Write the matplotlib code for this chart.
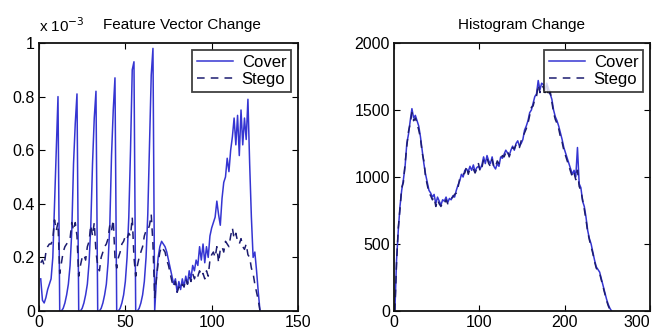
import numpy as np
import matplotlib
matplotlib.use("Agg")
import matplotlib.pyplot as plt

plt.rcParams['font.family'] = ['Liberation Sans Narrow', 'Liberation Sans', 'DejaVu Sans']

# ---------------- data ----------------
# Left panel: feature vector change (values in units of 1e-3)
fv_cover = [
    0.12, 0.04, 0.03, 0.05, 0.08, 0.10, 0.12, 0.20, 0.40, 0.60, 0.80,
    0.00, 0.00, 0.01, 0.03, 0.06, 0.10, 0.17, 0.30, 0.55, 0.70, 0.81,
    0.00, 0.00, 0.01, 0.03, 0.06, 0.10, 0.18, 0.32, 0.55, 0.72, 0.82,
    0.00, 0.00, 0.01, 0.03, 0.06, 0.10, 0.18, 0.32, 0.58, 0.75, 0.87,
    0.00, 0.00, 0.01, 0.03, 0.06, 0.11, 0.20, 0.35, 0.60, 0.90, 0.93,
    0.00, 0.00, 0.01, 0.03, 0.06, 0.11, 0.20, 0.36, 0.62, 0.88, 0.98,
    0.00, 0.12, 0.20, 0.24, 0.26, 0.25, 0.24, 0.22, 0.19, 0.16, 0.13,
    0.10, 0.12, 0.07, 0.11, 0.08, 0.12, 0.09, 0.13, 0.10, 0.15, 0.12,
    0.17, 0.15, 0.19, 0.17, 0.24, 0.19, 0.25, 0.18, 0.24, 0.20, 0.28,
    0.31, 0.33, 0.35, 0.41, 0.36, 0.32, 0.42, 0.48, 0.50, 0.57, 0.52,
    0.60, 0.65, 0.72, 0.62, 0.73, 0.58, 0.75, 0.62, 0.72, 0.64, 0.79,
    0.55, 0.35, 0.20, 0.22, 0.15, 0.07, 0.00,
]
fv_stego = [
    0.18, 0.19, 0.17, 0.22, 0.24, 0.25, 0.25, 0.27, 0.34, 0.30, 0.33,
    0.14, 0.18, 0.22, 0.24, 0.25, 0.26, 0.27, 0.33, 0.30, 0.33, 0.28,
    0.13, 0.17, 0.20, 0.21, 0.19, 0.24, 0.26, 0.32, 0.28, 0.33, 0.22,
    0.17, 0.15, 0.20, 0.22, 0.24, 0.25, 0.27, 0.32, 0.30, 0.34, 0.20,
    0.16, 0.20, 0.22, 0.25, 0.26, 0.28, 0.27, 0.29, 0.28, 0.35, 0.20,
    0.13, 0.17, 0.20, 0.22, 0.24, 0.28, 0.30, 0.30, 0.32, 0.36, 0.25,
    0.05, 0.12, 0.18, 0.22, 0.24, 0.23, 0.22, 0.19, 0.17, 0.14, 0.11,
    0.09, 0.11, 0.07, 0.09, 0.08, 0.10, 0.09, 0.12, 0.10, 0.13, 0.11,
    0.14, 0.12, 0.14, 0.13, 0.15, 0.13, 0.14, 0.12, 0.15, 0.13, 0.19,
    0.21, 0.22, 0.20, 0.24, 0.18, 0.23, 0.24, 0.22, 0.26, 0.25, 0.24,
    0.28, 0.31, 0.27, 0.29, 0.26, 0.25, 0.27, 0.24, 0.23, 0.25, 0.21,
    0.20, 0.16, 0.14, 0.10, 0.07, 0.04, 0.00,
]

# Right panel: histogram change (every second bin, bins 1,3,...,255)
hist_cover = [
    0, 380, 600, 780, 900, 980, 1080, 1250, 1320, 1420, 1510, 1440, 1460, 1420, 1380, 1300,
    1200, 1100, 1020, 960, 900, 880, 850, 870, 800, 850, 820, 790, 830, 820, 850, 810,
    840, 830, 860, 850, 900, 940, 970, 1020, 1000, 1050, 1060, 1040, 1080, 1050, 1090, 1040,
    1070, 1080, 1060, 1090, 1150, 1100, 1160, 1120, 1100, 1150, 1080, 1060, 1100, 1080, 1150, 1140,
    1170, 1200, 1180, 1160, 1200, 1230, 1200, 1250, 1270, 1230, 1250, 1280, 1350, 1380, 1420, 1480,
    1500, 1550, 1600, 1620, 1720, 1650, 1700, 1690, 1650, 1700, 1660, 1620, 1580, 1500, 1450, 1420,
    1380, 1330, 1280, 1220, 1180, 1140, 1100, 1060, 1020, 1050, 1000, 1220, 950, 920, 820, 780,
    700, 600, 540, 500, 440, 380, 330, 310, 290, 240, 190, 140, 90, 50, 20, 0,
]
hist_stego = [
    0, 360, 620, 760, 920, 960, 1100, 1230, 1340, 1400, 1480, 1420, 1440, 1400, 1350, 1290,
    1180, 1120, 1000, 940, 880, 860, 830, 850, 780, 830, 800, 780, 810, 800, 830, 800,
    820, 840, 850, 870, 880, 920, 990, 1000, 1020, 1030, 1080, 1020, 1060, 1070, 1060, 1030,
    1060, 1100, 1040, 1070, 1130, 1120, 1140, 1100, 1080, 1130, 1070, 1080, 1120, 1100, 1130, 1160,
    1150, 1180, 1200, 1150, 1190, 1220, 1210, 1240, 1250, 1220, 1270, 1300, 1330, 1360, 1400, 1460,
    1520, 1530, 1580, 1600, 1690, 1630, 1680, 1670, 1630, 1680, 1600, 1640, 1560, 1480, 1430, 1400,
    1360, 1300, 1260, 1200, 1160, 1120, 1080, 1040, 1000, 1030, 980, 1050, 930, 900, 830, 760,
    680, 590, 530, 480, 430, 370, 320, 300, 280, 230, 180, 130, 80, 40, 10, 0,
]

fv_x = np.arange(1, len(fv_cover) + 1)
hist_x = np.arange(1, 2 * len(hist_cover) + 1, 2)

cover_color = '#3535d2'
stego_color = '#1c1c70'

fig = plt.figure(figsize=(6.64, 3.36), dpi=100)
W, H = 664, 336

def make_axes(l, r, t, b):
    return fig.add_axes([l / W, 1 - b / H, (r - l) / W, (b - t) / H])

ax1 = make_axes(39, 298, 43, 311)
ax2 = make_axes(394, 650, 43, 311)

for ax in (ax1, ax2):
    ax.tick_params(direction='in', top=True, right=True, length=4, width=0.8,
                   labelsize=11.5, pad=3)
    for s in ax.spines.values():
        s.set_linewidth(1.3)
        s.set_color('#111111')

ax1.plot(fv_x, fv_cover, '-', color=cover_color, lw=1.1, label='Cover')
ax1.plot(fv_x, fv_stego, '--', color=stego_color, lw=1.1, dashes=(5, 4), label='Stego')
ax1.set_xlim(0, 150)
ax1.set_ylim(0, 1)
ax1.set_xticks([0, 50, 100, 150])
ax1.set_yticks([0, 0.2, 0.4, 0.6, 0.8, 1])
ax1.set_yticklabels(['0', '0.2', '0.4', '0.6', '0.8', '1'])
ax1.set_title('Feature Vector Change', fontsize=11, pad=10, x=0.55)
ax1.text(0.0, 1.03, r'x 10$^{-3}$', transform=ax1.transAxes, fontsize=11,
         ha='left', va='bottom')

ax2.plot(hist_x, hist_cover, '-', color=cover_color, lw=1.1, label='Cover')
ax2.plot(hist_x, hist_stego, '--', color=stego_color, lw=1.1, dashes=(5, 4), label='Stego')
ax2.set_xlim(0, 300)
ax2.set_ylim(0, 2000)
ax2.set_xticks([0, 100, 200, 300])
ax2.set_yticks([0, 500, 1000, 1500, 2000])
ax2.set_title('Histogram Change', fontsize=11, pad=10)
for lbl in ax2.get_xticklabels():
    if lbl.get_text() == '300':
        lbl.set_horizontalalignment('right')
        lbl.set_x(300)

for ax in (ax1, ax2):
    leg = ax.legend(loc='upper right', fontsize=12, frameon=True, fancybox=False,
                    handlelength=2.2, borderpad=0.3, labelspacing=0.15,
                    handletextpad=0.5, borderaxespad=0.4)
    leg.get_frame().set_edgecolor('#111111')
    leg.get_frame().set_linewidth(1.3)

fig.canvas.draw()
labels = ax2.get_xticklabels()
labels[-1].set_horizontalalignment('right')
labels[-1].set_x(300)
fig.savefig('out.png', dpi=100)
